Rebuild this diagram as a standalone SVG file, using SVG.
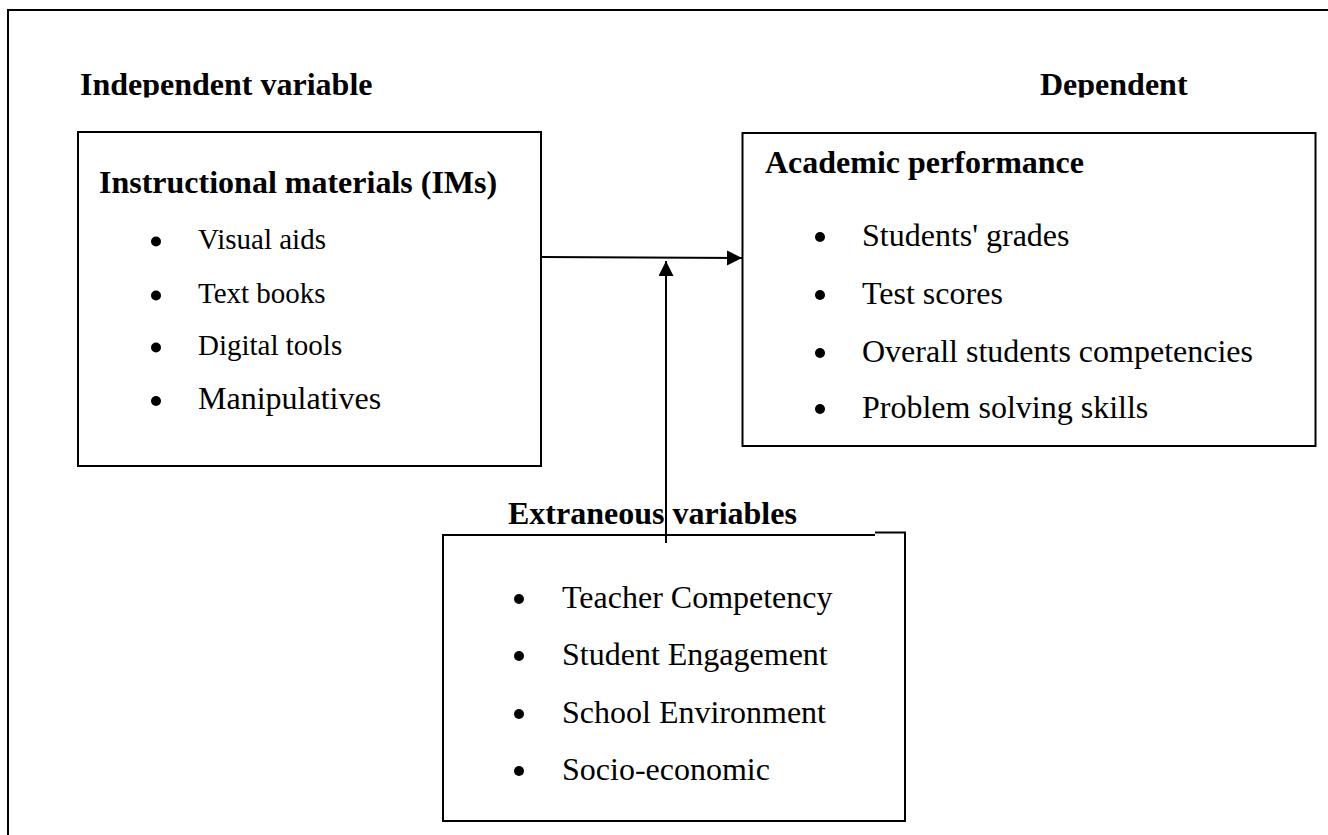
<svg xmlns="http://www.w3.org/2000/svg" width="1328" height="835" viewBox="0 0 1328 835">
<style>
text{font-family:"Liberation Serif","Times New Roman",serif;fill:#000}
.h{font-size:32px;font-weight:bold}
.t{font-size:32px}
.s{font-size:29px}
.box{fill:none;stroke:#000;stroke-width:2}
.bul{fill:#000}
.con{fill:none;stroke:#000;stroke-width:2}
</style>
<defs>
<marker id="arr" markerWidth="16" markerHeight="16" refX="15" refY="7.5" orient="auto" markerUnits="userSpaceOnUse">
<path d="M0,0 L15,7.5 L0,15 Z" fill="#000"/>
</marker>
<clipPath id="hclip"><rect x="0" y="0" width="1328" height="97.5"/></clipPath>
</defs>
<rect width="1328" height="835" fill="#fff"/>
<path d="M8,835 V10 H1328" fill="none" stroke="#000" stroke-width="2"/>
<g id="headers" clip-path="url(#hclip)">
<text class="h" x="80" y="95">Independent variable</text>
<text class="h" x="1040" y="95">Dependent</text>
</g>
<g id="node-ims">
<rect class="box" x="78" y="132" width="463" height="334"/>
<text class="h" x="99" y="193">Instructional materials (IMs)</text>
<circle class="bul" cx="156" cy="241.5" r="5"/>
<text class="s" x="198" y="249">Visual aids</text>
<circle class="bul" cx="156" cy="295.5" r="5"/>
<text class="s" x="198" y="303">Text books</text>
<circle class="bul" cx="156" cy="347.5" r="5"/>
<text class="s" x="198" y="355">Digital tools</text>
<circle class="bul" cx="156" cy="401" r="5"/>
<text class="t" x="198" y="409">Manipulatives</text>
</g>
<g id="node-academic">
<rect class="box" x="742.5" y="133" width="573" height="313"/>
<text class="h" x="765" y="173">Academic performance</text>
<circle class="bul" cx="820" cy="237" r="5"/>
<text class="t" x="862" y="246">Students' grades</text>
<circle class="bul" cx="820" cy="295" r="5"/>
<text class="t" x="862" y="304">Test scores</text>
<circle class="bul" cx="820" cy="353" r="5"/>
<text class="t" x="862" y="362">Overall students competencies</text>
<circle class="bul" cx="820" cy="409" r="5"/>
<text class="t" x="862" y="418">Problem solving skills</text>
</g>
<g id="node-extraneous">
<text class="h" x="508" y="524">Extraneous variables</text>
<path class="box" d="M875,535 H443 V821 H905 V532.5 H875"/>
<circle class="bul" cx="519" cy="599" r="5"/>
<text class="t" x="562" y="608">Teacher Competency</text>
<circle class="bul" cx="519" cy="656" r="5"/>
<text class="t" x="562" y="665">Student Engagement</text>
<circle class="bul" cx="519" cy="714" r="5"/>
<text class="t" x="562" y="723">School Environment</text>
<circle class="bul" cx="519" cy="771" r="5"/>
<text class="t" x="562" y="780">Socio-economic</text>
</g>
<g id="connectors">
<line class="con" x1="541" y1="257" x2="742" y2="258" marker-end="url(#arr)"/>
<line class="con" x1="666" y1="543" x2="666" y2="261" marker-end="url(#arr)"/>
</g>
</svg>
